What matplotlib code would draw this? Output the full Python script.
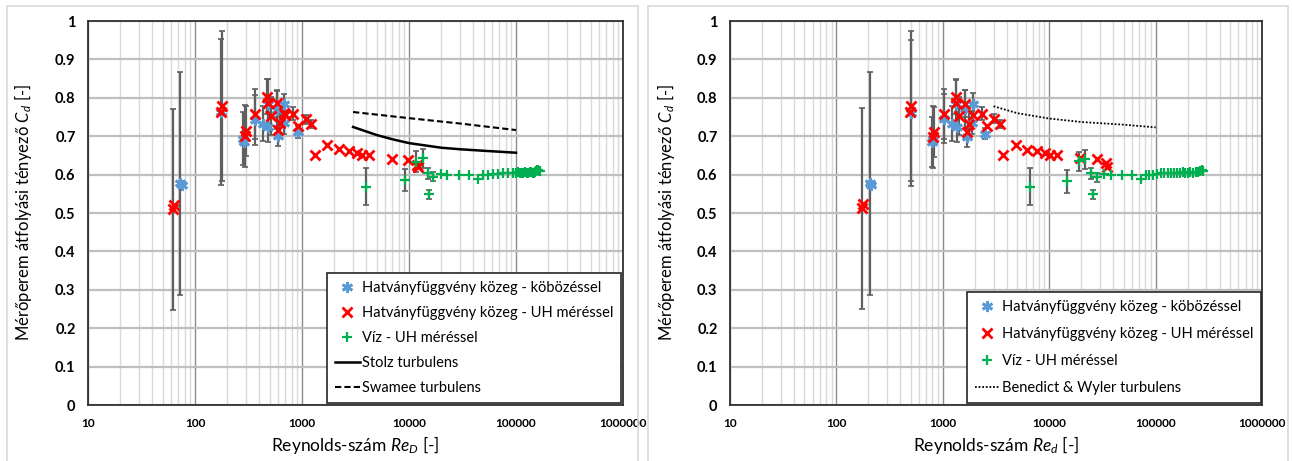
import matplotlib
matplotlib.use("Agg")
import matplotlib.pyplot as plt
from matplotlib.ticker import FixedLocator, LogLocator, NullFormatter
from matplotlib.patches import Rectangle
import numpy as np

plt.rcParams['font.family'] = ['Lato', 'DejaVu Sans']
plt.rcParams['mathtext.fontset'] = 'custom'
plt.rcParams['mathtext.rm'] = 'Lato'
plt.rcParams['mathtext.it'] = 'Lato:italic'

# ---- left chart: Re_D ----
blue_L_re = [73, 75, 175, 283, 286, 362, 428, 484, 476, 580, 598, 684, 686, 910]
blue_L_cd = [0.577, 0.572, 0.763, 0.694, 0.685, 0.743, 0.733, 0.724, 0.785, 0.768,
             0.700, 0.784, 0.735, 0.711]
blue_L_err = [0.29, 0, 0.19, 0.07, 0, 0.065, 0.045, 0.04, 0.065, 0.05,
              0.025, 0.027, 0.03, 0.015]

red_L_re = [62, 63.5, 175, 177, 296, 300, 366, 474, 476, 509, 579, 601, 622, 675,
            690, 830, 925, 1089, 1214, 1322, 1727, 2218, 2754, 3246, 3614, 4230,
            6890, 9860, 12000, 12200]
red_L_cd = [0.510, 0.522, 0.762, 0.778, 0.701, 0.714, 0.757, 0.803, 0.787, 0.753,
            0.786, 0.716, 0.735, 0.760, 0.756, 0.759, 0.727, 0.744, 0.731, 0.652,
            0.677, 0.666, 0.661, 0.655, 0.651, 0.651, 0.641, 0.638, 0.625, 0.619]
red_L_err = [0.262, 0, 0, 0.195, 0.08, 0.065, 0.065, 0.045, 0, 0.05,
             0.035, 0, 0.03, 0, 0, 0.017, 0, 0.012, 0.01, 0,
             0, 0, 0, 0, 0, 0, 0, 0, 0, 0]

green_L_re = [3935, 9190, 11620, 13430, 14960, 15500, 16900, 19800, 22800, 29300,
              36300, 44400, 49500, 55000, 61300, 68300, 76000, 84700, 94300, 101000,
              105000, 109000, 113000, 117000, 121000, 126000, 130000, 135000, 139000,
              143000, 147000, 151000, 155000, 158000, 161000, 165000, 168000]
green_L_cd = [0.569, 0.586, 0.634, 0.642, 0.603, 0.549, 0.595, 0.601, 0.600, 0.599,
              0.599, 0.589, 0.599, 0.600, 0.601, 0.602, 0.603, 0.603, 0.604, 0.604,
              0.606, 0.603, 0.603, 0.605, 0.606, 0.605, 0.604, 0.606, 0.607,
              0.605, 0.605, 0.608, 0.609, 0.611, 0.612, 0.609, 0.610]
green_L_err = [0.047, 0.029, 0.027, 0.025, 0.015, 0.012, 0.012] + [0] * 30

stolz_re = [3000, 5000, 7000, 10000, 20000, 30000, 50000, 100000]
stolz_cd = [0.724, 0.703, 0.692, 0.682, 0.670, 0.666, 0.662, 0.657]
swamee_re = [3000, 10000, 30000, 100000]
swamee_cd = [0.763, 0.747, 0.733, 0.716]

# ---- right chart: Re_d ----
blue_R_re = [208, 212, 500, 800, 805, 1020, 1210, 1372, 1330, 1627, 1690, 1911,
             1900, 2504]
blue_R_cd = [0.577, 0.572, 0.760, 0.685, 0.694, 0.746, 0.733, 0.724, 0.785, 0.770,
             0.698, 0.785, 0.735, 0.707]
blue_R_err = [0.29, 0, 0.19, 0.065, 0, 0.065, 0.045, 0.04, 0.065, 0.05,
              0.025, 0.027, 0.03, 0.015]

red_R_re = [174, 178, 493, 500, 815, 830, 1020, 1325, 1330, 1422, 1627, 1702, 1780,
            1911, 2349, 2620, 3049, 3426, 3718, 4866, 6208, 7628, 9040, 10070,
            11950, 19600, 28100, 34400, 34800]
red_R_cd = [0.512, 0.523, 0.763, 0.778, 0.698, 0.711, 0.757, 0.802, 0.787, 0.752,
            0.785, 0.711, 0.733, 0.755, 0.759, 0.726, 0.746, 0.731, 0.651, 0.677,
            0.665, 0.662, 0.655, 0.652, 0.650, 0.642, 0.640, 0.629, 0.620]
red_R_err = [0.262, 0, 0, 0.195, 0.08, 0.065, 0.065, 0.045, 0, 0.05,
             0.035, 0, 0.03, 0, 0.017, 0, 0.012, 0.01, 0, 0,
             0, 0, 0, 0, 0, 0, 0, 0, 0]

green_R_re = [6550, 14700, 18900, 21800, 24700, 25900, 28100, 33000, 37700, 48100,
              60200, 72600, 80900, 87000, 95000, 103000, 112000, 120000, 130000,
              140000, 150000, 160000, 170000, 180000, 190000, 200000, 212000, 225000,
              238000, 250000, 262000, 272000, 279000]
green_R_cd = [0.569, 0.583, 0.635, 0.640, 0.603, 0.549, 0.593, 0.601, 0.600, 0.599,
              0.599, 0.588, 0.600, 0.599, 0.600, 0.601, 0.603, 0.604, 0.603,
              0.604, 0.605, 0.604, 0.605, 0.606, 0.604, 0.605, 0.606, 0.604,
              0.607, 0.608, 0.610, 0.611, 0.610]
green_R_err = [0.047, 0.03, 0.025, 0.025, 0.015, 0.012, 0.012] + [0] * 26

bw_re = [3000, 5000, 10000, 20000, 50000, 100000]
bw_cd = [0.778, 0.760, 0.746, 0.737, 0.730, 0.723]

xticks = [10, 100, 1000, 10000, 100000, 1000000]
xticklabels = ['10', '100', '1000', '10000', '100000', '1000000']
yticks = [0, 0.1, 0.2, 0.3, 0.4, 0.5, 0.6, 0.7, 0.8, 0.9, 1.0]
yticklabels = ['0', '0.1', '0.2', '0.3', '0.4', '0.5', '0.6', '0.7', '0.8', '0.9', '1']

BLUE = '#5b9bd5'
RED = '#ff0000'
GREEN = '#00b050'
ERRC = '#5f5f5f'
star = (6, 2, 0)

W, H = 1292, 461
fig = plt.figure(figsize=(W / 100, H / 100), dpi=100)

# panel frames
for x0, x1 in [(7, 638), (648, 1288)]:
    fig.patches.append(Rectangle((x0 / W, -0.05), (x1 - x0) / W, 1.05 - 6 / H,
                                 transform=fig.transFigure, fill=False,
                                 edgecolor='#d9d9d9', linewidth=1.2))


def errbars(ax, xs, ys, es):
    pts = [(x, y, e) for x, y, e in zip(xs, ys, es) if e > 0]
    if pts:
        px, py, pe = zip(*pts)
        ax.errorbar(px, py, yerr=pe, fmt='none', ecolor=ERRC, elinewidth=1.6,
                    capsize=2.5, capthick=1.2, zorder=3)


def setup(ax, xlabel):
    ax.set_xscale('log')
    ax.set_xlim(10, 1e6)
    ax.set_ylim(0, 1)
    ax.xaxis.set_major_locator(FixedLocator(xticks))
    ax.set_xticklabels(xticklabels, fontsize=8.5, fontweight='bold')
    ax.xaxis.set_minor_locator(LogLocator(base=10, subs=np.arange(2, 10)))
    ax.xaxis.set_minor_formatter(NullFormatter())
    ax.set_yticks(yticks)
    ax.set_yticklabels(yticklabels, fontsize=10.5, fontweight='bold')
    ax.tick_params(axis='both', which='both', length=0)
    ax.tick_params(axis='x', pad=9)
    ax.tick_params(axis='y', pad=9)
    ax.grid(True, which='minor', axis='x', color='#d9d9d9', linewidth=1.0, zorder=0)
    ax.grid(True, which='major', axis='x', color='#8c8c8c', linewidth=1.0, zorder=0)
    ax.grid(True, which='major', axis='y', color='#bfbfbf', linewidth=1.6, zorder=0)
    ax.set_axisbelow(True)
    for s in ax.spines.values():
        s.set_color('#303030')
        s.set_linewidth(1.3)
    ax.set_ylabel('Mérőperem átfolyási tényező $C_d$ $[$-$]$', fontsize=12)
    ax.set_xlabel(xlabel, fontsize=12.5)
    ax.yaxis.set_label_coords(-0.1, 0.5)
    ax.xaxis.set_label_coords(0.5, -0.075)


axL = fig.add_axes([88 / W, 1 - 405 / H, 535 / W, 384 / H])
axR = fig.add_axes([730 / W, 1 - 405 / H, 532 / W, 384 / H])
setup(axL, 'Reynolds-szám $Re_D$ $[$-$]$')
setup(axR, 'Reynolds-szám $Re_d$ $[$-$]$')

for ax, (bre, bcd, berr), (rre, rcd, rerr), (gre, gcd, gerr) in [
        (axL, (blue_L_re, blue_L_cd, blue_L_err), (red_L_re, red_L_cd, red_L_err),
         (green_L_re, green_L_cd, green_L_err)),
        (axR, (blue_R_re, blue_R_cd, blue_R_err), (red_R_re, red_R_cd, red_R_err),
         (green_R_re, green_R_cd, green_R_err))]:
    errbars(ax, bre, bcd, berr)
    errbars(ax, rre, rcd, rerr)
    errbars(ax, gre, gcd, gerr)
    ax.plot(bre, bcd, linestyle='none', marker=star, markersize=8, markeredgewidth=2.0,
            color=BLUE, label='Hatványfüggvény közeg - köbözéssel', zorder=4)
    ax.plot(rre, rcd, linestyle='none', marker='x', markersize=7, markeredgewidth=2.0,
            color=RED, label='Hatványfüggvény közeg - UH méréssel', zorder=5)
    ax.plot(gre, gcd, linestyle='none', marker='+', markersize=7, markeredgewidth=1.6,
            color=GREEN, label='Víz - UH méréssel', zorder=5)

axL.plot(stolz_re, stolz_cd, color='black', linewidth=1.8, label='Stolz turbulens', zorder=4)
axL.plot(swamee_re, swamee_cd, color='black', linewidth=1.5, linestyle=(0, (3, 1.5)),
         label='Swamee turbulens', zorder=4)
axR.plot(bw_re, bw_cd, color='black', linewidth=1.3, linestyle=(0, (1, 1)),
         label='Benedict & Wyler turbulens', zorder=4)

for ax, anchor, sp in [(axL, (0.997, 0.005), 0.75), (axR, (0.998, 0.005), 0.9)]:
    leg = ax.legend(loc='lower right', bbox_to_anchor=anchor, fontsize=10.5,
                    frameon=True, fancybox=False, framealpha=1, edgecolor='#262626',
                    handlelength=1.7, handletextpad=0.15, labelspacing=sp,
                    borderpad=0.55, borderaxespad=0)
    leg.get_frame().set_linewidth(1.2)

fig.savefig('out.png', dpi=100)
